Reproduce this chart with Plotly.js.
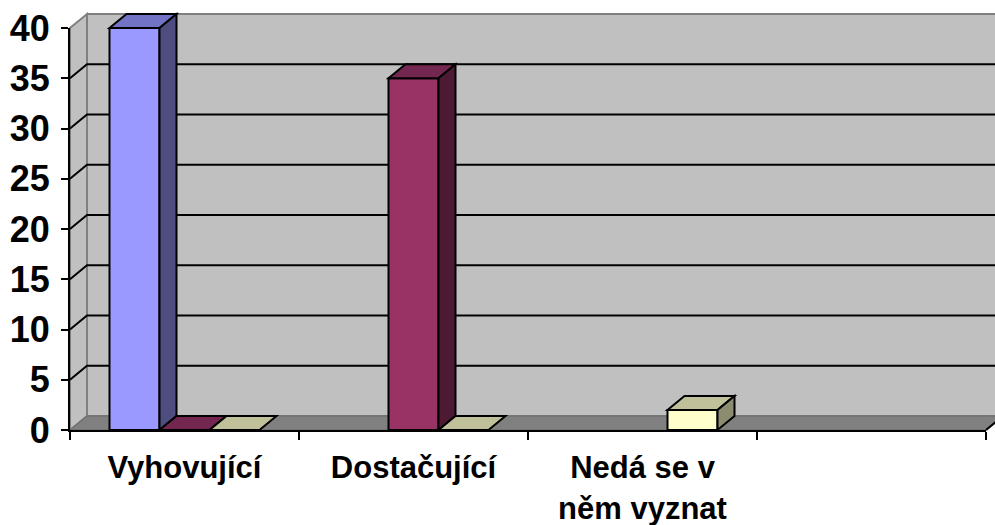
<!DOCTYPE html>
<html>
<head>
<meta charset="utf-8">
<script src="https://cdn.plot.ly/plotly-3.0.1.min.js"></script>
<style>html,body{margin:0;padding:0;background:#fff;}#chart{width:995px;height:525px;}</style>
</head>
<body>
<div id="chart"></div>
<script>
// ---- data ----
var categories = ["Vyhovující", "Dostačující", "Nedá se v<br>něm vyznat", " "];
var seriesBlue = [40, null, null, null];
var seriesMaroon = [0, 35, null, null];
var seriesYellow = [0, 0, 2, null];
var yTickVals = [0, 5, 10, 15, 20, 25, 30, 35, 40];

// ---- styles ----
var frontColors = ["#9999FF", "#993366", "#FFFFCC"];
var topColors = ["#7373C6", "#732650", "#C0C09A"];
var sideColors = ["#4D4D80", "#4D1933", "#8C8C70"];
var series = [seriesBlue, seriesMaroon, seriesYellow];

var W = 995, H = 525;
var margin = {l: 70, r: 9, t: 28, b: 95};
var plotW = W - margin.l - margin.r, plotH = H - margin.t - margin.b;
var yMax = 40;
var bargap = 0.345;
var nCat = categories.length;
var dxp = 17 / plotW, dyp = 14 / plotH;  // depth offset in paper units

function px(catPos) { return (catPos + 0.5) / nCat; }   // category units -> paper x
function py(v) { return v / yMax; }                     // value -> paper y

var traces = series.map(function (vals, i) {
  return {
    type: "bar", x: categories, y: vals,
    marker: {color: frontColors[i], line: {color: "#000", width: 2}},
    cliponaxis: false, hoverinfo: "skip", showlegend: false
  };
});

var shapes = [];
// back wall
shapes.push({type: "rect", xref: "paper", yref: "paper", layer: "below",
  x0: dxp, y0: dyp, x1: 1 + dxp, y1: 1 + dyp,
  fillcolor: "#C0C0C0", line: {color: "#808080", width: 2}});
// left wall
shapes.push({type: "path", xref: "paper", yref: "paper", layer: "below",
  path: "M0,0 L" + dxp + "," + dyp + " L" + dxp + "," + (1 + dyp) + " L0,1 Z",
  fillcolor: "#C0C0C0", line: {color: "#808080", width: 2}});
// floor
shapes.push({type: "path", xref: "paper", yref: "paper", layer: "below",
  path: "M0,0 L1,0 L" + (1 + dxp) + "," + dyp + " L" + dxp + "," + dyp + " Z",
  fillcolor: "#808080", line: {color: "#6A6A6A", width: 1}});
// gridlines
yTickVals.forEach(function (v) {
  if (v === 0 || v === yMax) return;
  var y = py(v);
  shapes.push({type: "path", xref: "paper", yref: "paper", layer: "below",
    path: "M0," + y + " L" + dxp + "," + (y + dyp) + " L" + (1 + dxp) + "," + (y + dyp),
    line: {color: "#000", width: 2}});
});
// 3D bar faces
var groupW = 1 - bargap, barW = groupW / series.length;
series.forEach(function (vals, i) {
  vals.forEach(function (v, c) {
    if (v === null) return;
    var x0 = px(c - groupW / 2 + i * barW), x1 = px(c - groupW / 2 + (i + 1) * barW);
    var h = py(v);
    shapes.push({type: "path", xref: "paper", yref: "paper", layer: "above",
      path: "M" + x0 + "," + h + " L" + x1 + "," + h + " L" + (x1 + dxp) + "," + (h + dyp) +
            " L" + (x0 + dxp) + "," + (h + dyp) + " Z",
      fillcolor: topColors[i], line: {color: "#000", width: 2}});
    if (v > 0) {
      shapes.push({type: "path", xref: "paper", yref: "paper", layer: "above",
        path: "M" + x1 + ",0 L" + x1 + "," + h + " L" + (x1 + dxp) + "," + (h + dyp) +
              " L" + (x1 + dxp) + "," + dyp + " Z",
        fillcolor: sideColors[i], line: {color: "#000", width: 2}});
    }
  });
});
// right floor edge
shapes.push({type: "line", xref: "paper", yref: "paper", layer: "above",
  x0: 1, y0: 0, x1: 1 + dxp, y1: dyp, line: {color: "#000", width: 2}});

var font = {family: "Liberation Sans, Arial, sans-serif", color: "#000"};

var layout = {
  width: W, height: H, margin: margin,
  paper_bgcolor: "#fff", plot_bgcolor: "rgba(0,0,0,0)",
  barmode: "group", bargap: bargap, bargroupgap: 0,
  showlegend: false,
  xaxis: {
    type: "category", tickson: "boundaries", range: [-0.5, nCat - 0.5],
    showline: true, linecolor: "#000", linewidth: 2,
    ticks: "outside", ticklen: 8, tickwidth: 2, tickcolor: "#000",
    showgrid: false, zeroline: false, fixedrange: true,
    tickfont: {family: font.family, size: 31, color: "#000", weight: 700},
    ticklabelstandoff: 9
  },
  yaxis: {
    range: [0, yMax], tickvals: yTickVals, ticktext: yTickVals.map(String),
    showline: true, linecolor: "#000", linewidth: 2,
    ticks: "outside", ticklen: 7, tickwidth: 2, tickcolor: "#000",
    showgrid: false, zeroline: false, fixedrange: true,
    tickfont: {family: font.family, size: 36, color: "#000", weight: 700},
    ticklabelstandoff: 4
  },
  shapes: shapes
};

Plotly.newPlot("chart", traces, layout, {displayModeBar: false, staticPlot: true});
</script>
</body>
</html>
